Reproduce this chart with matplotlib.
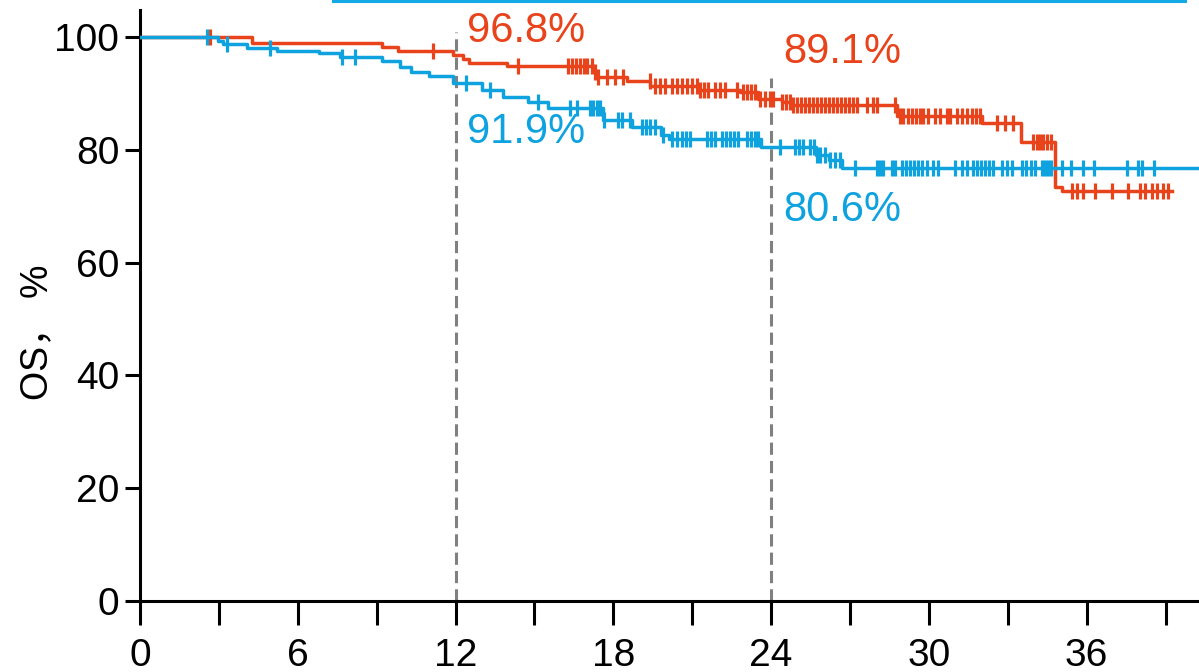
import numpy as np
import matplotlib.pyplot as plt
from matplotlib.lines import Line2D

plt.rcParams['font.family'] = ['Liberation Sans', 'Noto Sans CJK SC', 'DejaVu Sans']

red = '#E8431B'
blue = '#0EA2DF'

# step curve of the red arm: event times (months) and survival after each drop (%)
red_times = [0, 4.26, 9.2, 9.8, 11.9, 12.3, 12.5, 13.95, 17.25, 17.35, 18.5, 19.4,
             21.2, 22.8, 23.5, 24.4, 24.8, 28.8, 32.0, 33.5, 34.8, 35.05]
red_surv = [100, 99.0, 98.3, 97.5, 96.8, 96.2, 95.5, 94.8, 93.8, 92.9, 92.3, 91.3,
            90.7, 90.2, 89.1, 88.5, 87.9, 86.1, 84.7, 81.4, 73.4, 72.8]
red_end = 39.24
red_censor = [2.66, 11.14, 14.37, 16.27, 16.43, 16.58, 16.73, 16.88, 17.00, 17.19, 17.30,
              17.41, 17.76, 18.06, 18.37, 19.39, 19.58, 19.77, 19.96, 20.23, 20.42, 20.61,
              20.80, 20.99, 21.18, 21.29, 21.44, 21.60, 21.86, 22.05, 22.24, 22.70, 22.93,
              23.08, 23.24, 23.38, 23.57, 23.76, 23.95, 24.07, 24.41, 24.56, 24.71, 24.83,
              24.98, 25.13, 25.29, 25.44, 25.59, 25.74, 25.89, 26.05, 26.20, 26.35, 26.50,
              26.65, 26.81, 26.96, 27.11, 27.26, 27.64, 27.87, 28.02, 28.71, 28.90, 29.01,
              29.20, 29.35, 29.51, 29.66, 29.77, 29.96, 30.23, 30.42, 30.68, 30.80, 31.06,
              31.25, 31.44, 31.63, 31.79, 31.94, 32.59, 32.89, 33.19, 33.95, 34.11, 34.22,
              34.33, 34.49, 34.64, 35.44, 35.63, 35.86, 36.31, 36.96, 37.57, 38.02, 38.21,
              38.48, 38.67, 38.90, 39.09]

# step curve of the blue arm
blue_times = [0, 2.97, 3.15, 4.07, 5.2, 6.8, 7.6, 9.2, 9.9, 10.3, 11.0, 11.9, 13.0,
              13.8, 14.75, 15.5, 17.6, 18.7, 19.8, 20.1, 23.6, 25.7, 26.2, 26.7]
blue_surv = [100, 99.3, 98.8, 98.0, 97.6, 97.1, 96.4, 95.8, 94.7, 93.8, 93.1, 91.9, 90.7,
             89.4, 88.5, 87.4, 85.3, 84.0, 82.6, 82.0, 80.6, 79.1, 78.2, 76.8]
blue_end = 40.6
blue_censor = [2.55, 3.31, 4.94, 7.68, 8.17, 12.40, 13.31, 15.13, 16.35, 16.62, 17.11,
               17.22, 17.38, 17.49, 17.64, 18.17, 18.33, 18.63, 19.09, 19.24, 19.39, 19.58,
               19.89, 20.23, 20.42, 20.61, 20.76, 20.91, 21.56, 21.71, 21.86, 22.13, 22.28,
               22.43, 22.59, 22.74, 23.08, 23.24, 23.38, 23.50, 24.33, 24.90, 25.06, 25.21,
               25.48, 25.63, 25.74, 25.86, 26.05, 26.24, 26.43, 26.62, 27.19, 28.02, 28.14,
               28.25, 28.59, 28.71, 28.97, 29.13, 29.28, 29.43, 29.58, 29.73, 29.92, 30.15,
               30.34, 30.99, 31.25, 31.44, 31.67, 31.83, 31.98, 32.13, 32.28, 32.43, 32.78,
               32.97, 33.16, 33.54, 33.69, 33.88, 34.03, 34.30, 34.41, 34.52, 34.64, 35.06,
               35.40, 35.86, 36.27, 37.53, 37.95, 38.10, 38.56]

landmarks = [12, 24]
red_labels = ['96.8%', '89.1%']
blue_labels = ['91.9%', '80.6%']


def surv_at(times, surv, t):
    idx = np.searchsorted(times, t, side='right') - 1
    return np.asarray(surv)[idx]


fig = plt.figure(figsize=(11.99, 6.72), dpi=100)
ax = fig.add_axes([0.1168, 0.1057, 0.8832, 0.8793])

for times, surv, end, cens, col in [(red_times, red_surv, red_end, red_censor, red),
                                     (blue_times, blue_surv, blue_end, blue_censor, blue)]:
    x = list(times) + [end]
    y = list(surv) + [surv[-1]]
    ax.plot(x, y, drawstyle='steps-post', color=col, lw=2.5, zorder=3)
    ax.plot(cens, surv_at(times, surv, cens), ls='none', marker='|', ms=11,
            mew=2.3, color=col, zorder=3)

# landmark lines at 12 and 24 months
ax.plot([12, 12], [0, 100.9], ls=(0, (4, 2)), color='#808080', lw=2.2, zorder=2)
ax.plot([24, 24], [0, 92.7], ls=(0, (4, 2)), color='#808080', lw=2.2, zorder=2)

ax.text(12.43, 101.1, red_labels[0], color=red, fontsize=30, va='center', ha='left')
ax.text(12.43, 83.2, blue_labels[0], color=blue, fontsize=30, va='center', ha='left')
ax.text(24.45, 97.3, red_labels[1], color=red, fontsize=30, va='center', ha='left')
ax.text(24.45, 69.3, blue_labels[1], color=blue, fontsize=30, va='center', ha='left')

ax.set_xlim(0, 40.27)
ax.set_ylim(0, 104.8)
ax.set_xticks(np.arange(0, 40, 3))
ax.set_xticklabels([str(v) if v % 6 == 0 else '' for v in range(0, 40, 3)])
ax.set_yticks([0, 20, 40, 60, 80, 100])
ax.tick_params(axis='x', length=17, width=2.2, labelsize=28, pad=10)
ax.tick_params(axis='y', length=11, width=2.2, labelsize=28, pad=4)
for s in ['top', 'right']:
    ax.spines[s].set_visible(False)
for s in ['left', 'bottom']:
    ax.spines[s].set_linewidth(2.2)
ax.set_ylabel('OS， %', fontsize=27)
ax.yaxis.set_label_coords(-0.08, 0.455)

fig.add_artist(Line2D([333 / 1199, 1185 / 1199], [1 - 1.2 / 672, 1 - 1.2 / 672],
                      color='#13A9E6', lw=2.2))

fig.savefig('out.png', dpi=100)
